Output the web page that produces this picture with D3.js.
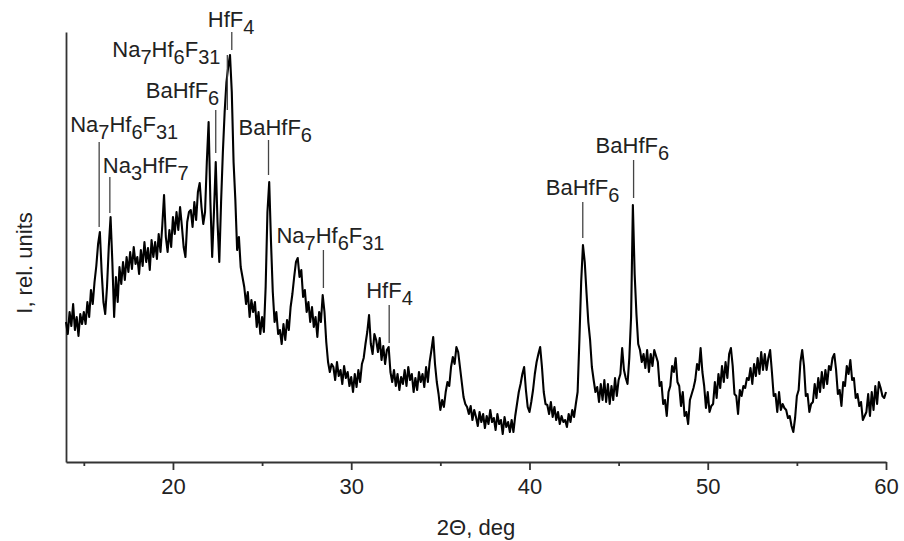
<!DOCTYPE html>
<html>
<head>
<meta charset="utf-8">
<script src="https://cdn.jsdelivr.net/npm/d3@7/dist/d3.min.js"></script>
<style>
  body { margin: 0; background: #fff; }
  text { font-family: "Liberation Sans", Arial, sans-serif; fill: #222; }
</style>
</head>
<body>
<svg id="chart" width="904" height="541"></svg>
<script>
// measurement grid (2theta, deg)
const angleStart = 14;
const angleStep = 0.1;

// intensity, rel. units, one value per 0.1 deg from 14.0 to 60.0
const intensity = [
  140, 128, 150, 136, 158, 132, 145, 126, 148, 138, // 14
  150, 138, 160, 145, 172, 158, 180, 196, 218, 230, // 15
  190, 160, 148, 175, 215, 245, 200, 145, 185, 160, // 16
  195, 178, 200, 182, 205, 190, 210, 193, 215, 198, // 17
  205, 188, 212, 196, 220, 200, 214, 192, 222, 205, // 18
  220, 203, 228, 210, 236, 267, 225, 210, 232, 215, // 19
  245, 228, 250, 232, 255, 236, 215, 205, 240, 250, // 20
  252, 235, 260, 242, 270, 279, 255, 238, 250, 300, // 21
  340, 260, 205, 250, 300, 240, 200, 260, 310, 350, // 22
  380, 395, 407, 370, 300, 262, 212, 225, 195, 185, // 23
  175, 158, 170, 145, 162, 150, 160, 135, 150, 128, // 24
  145, 130, 175, 250, 280, 220, 170, 140, 150, 128, // 25
  132, 118, 138, 122, 142, 132, 155, 168, 185, 200, // 26
  204, 185, 192, 165, 172, 150, 160, 140, 155, 135, // 27
  145, 125, 150, 140, 167, 150, 120, 100, 90, 98,   // 28
  95, 82, 100, 86, 92, 78, 96, 84, 90, 76,          // 29
  85, 70, 88, 75, 92, 80, 98, 104, 118, 130,        // 30
  147, 118, 108, 128, 122, 110, 124, 102, 116, 98,  // 31
  112, 115, 90, 80, 92, 76, 88, 72, 85, 78,         // 32
  92, 76, 95, 82, 88, 70, 84, 72, 90, 80,           // 33
  88, 75, 95, 80, 100, 112, 125, 98, 80, 68,        // 34
  52, 62, 55, 70, 80, 76, 95, 105, 98, 115,         // 35
  110, 95, 80, 65, 58, 55, 48, 56, 42, 52,          // 36
  45, 36, 50, 40, 48, 34, 46, 38, 52, 40,           // 37
  44, 32, 48, 38, 42, 28, 45, 35, 40, 30,           // 38
  42, 30, 46, 58, 70, 78, 88, 95, 72, 55,           // 39
  50, 60, 72, 88, 100, 108, 115, 95, 70, 58,        // 40
  57, 48, 60, 45, 55, 42, 50, 38, 46, 40,           // 41
  42, 35, 48, 40, 52, 45, 58, 70, 122, 180,         // 42
  217, 200, 169, 140, 122, 95, 82, 70, 75, 60,      // 43
  78, 62, 82, 60, 78, 58, 76, 62, 84, 66,           // 44
  82, 88, 114, 92, 84, 78, 104, 145, 257, 188,      // 45
  148, 118, 112, 100, 108, 94, 112, 90, 108, 96,    // 46
  112, 106, 100, 76, 80, 58, 62, 46, 70, 76,        // 47
  96, 90, 104, 80, 76, 56, 70, 46, 50, 38,          // 48
  62, 68, 74, 82, 98, 92, 114, 90, 76, 54,          // 49
  70, 50, 56, 58, 80, 64, 88, 74, 96, 80,           // 50
  100, 84, 108, 114, 96, 68, 66, 48, 72, 66,        // 51
  76, 74, 84, 82, 94, 78, 98, 86, 104, 88,          // 52
  110, 92, 108, 92, 104, 112, 90, 66, 68, 50,       // 53
  70, 52, 58, 54, 52, 44, 46, 36, 30, 44,           // 54
  66, 72, 100, 112, 96, 66, 68, 50, 58, 60,         // 55
  78, 64, 84, 70, 90, 74, 92, 78, 96, 92,           // 56
  104, 108, 92, 68, 72, 56, 80, 76, 96, 88,         // 57
  102, 82, 84, 64, 68, 56, 60, 42, 46, 50,          // 58
  68, 46, 70, 52, 76, 58, 80, 74, 66, 64,           // 59
  70                                                // 60
];

// phase marks
const peakLabels = ["Na7Hf6F31", "Na3HfF7", "BaHfF6", "Na7Hf6F31", "HfF4",
                    "BaHfF6", "Na7Hf6F31", "HfF4", "BaHfF6", "BaHfF6"];
const peakPos = [15.86, 16.46, 22.4, 23.05, 23.3, 25.36, 28.44, 32.13, 42.99, 45.84];
const markTop = [320, 285, 352, 407, 430, 322, 212, 157, 260, 302];
const markBottom = [235, 249, 309, 352, 412, 287, 174, 119, 224, 264];

const majorTicks = [20, 30, 40, 50, 60];
const minorTicks = [15, 25, 35, 45, 55];

// label placement relative to the mark (px)
const labelDx = [-29, -7, -70, -115, -24, -30, -47, -23, -37, -38];
const labelDy = [-10, -4, -12, 2, -5, -5, -7, -7, -7, -7];

const svg = d3.select("#chart");

const x = d3.scaleLinear().domain([14, 60]).range([66, 886]);
const y = d3.scaleLinear().domain([0, 430]).range([462, 32]);

const data = intensity.map((v, i) => ({ a: angleStart + i * angleStep, v: v }));

// axes
const xAxis = svg.append("g")
  .attr("transform", "translate(0,462)")
  .call(d3.axisBottom(x).tickValues(majorTicks).tickSize(8).tickSizeOuter(0).tickPadding(8));
xAxis.selectAll("text").style("font-size", "22px").attr("fill", "#222");

svg.append("g")
  .attr("transform", "translate(0,462)")
  .call(d3.axisBottom(x).tickValues(minorTicks).tickSize(4).tickFormat(""))
  .call(g => g.select(".domain").remove());

svg.append("g")
  .attr("transform", "translate(66,0)")
  .call(d3.axisLeft(y).tickValues([]).tickSizeOuter(0));

svg.selectAll(".domain, .tick line")
  .attr("stroke", "#333")
  .attr("stroke-width", 1.8);

// titles
svg.append("text")
  .attr("x", 476)
  .attr("y", 535)
  .attr("text-anchor", "middle")
  .style("font-size", "22px")
  .text("2\u0398, deg");

svg.append("text")
  .attr("transform", "translate(32,263) rotate(-90)")
  .attr("text-anchor", "middle")
  .style("font-size", "22px")
  .text("I, rel. units");

// pattern
const line = d3.line()
  .x(d => x(d.a))
  .y(d => y(d.v));

svg.append("path")
  .datum(data)
  .attr("fill", "none")
  .attr("stroke", "#000")
  .attr("stroke-width", 2.1)
  .attr("stroke-linejoin", "round")
  .attr("d", line);

// phase marks and labels
const marks = svg.append("g");
peakLabels.forEach((lab, i) => {
  const px = x(peakPos[i]);
  marks.append("line")
    .attr("x1", px).attr("x2", px)
    .attr("y1", y(markTop[i])).attr("y2", y(markBottom[i]))
    .attr("stroke", "#444")
    .attr("stroke-width", 1.3);

  const t = marks.append("text")
    .attr("x", px + labelDx[i])
    .attr("y", y(markTop[i]) + labelDy[i])
    .style("font-size", "22px");

  let low = false;
  lab.match(/[A-Za-z]+|\d+/g).forEach(part => {
    const isSub = /\d/.test(part);
    const ts = t.append("tspan").text(part);
    if (isSub && !low) { ts.attr("dy", 7).style("font-size", "20px"); low = true; }
    else if (isSub) { ts.style("font-size", "20px"); }
    else if (low) { ts.attr("dy", -7); low = false; }
  });
});
</script>
</body>
</html>
